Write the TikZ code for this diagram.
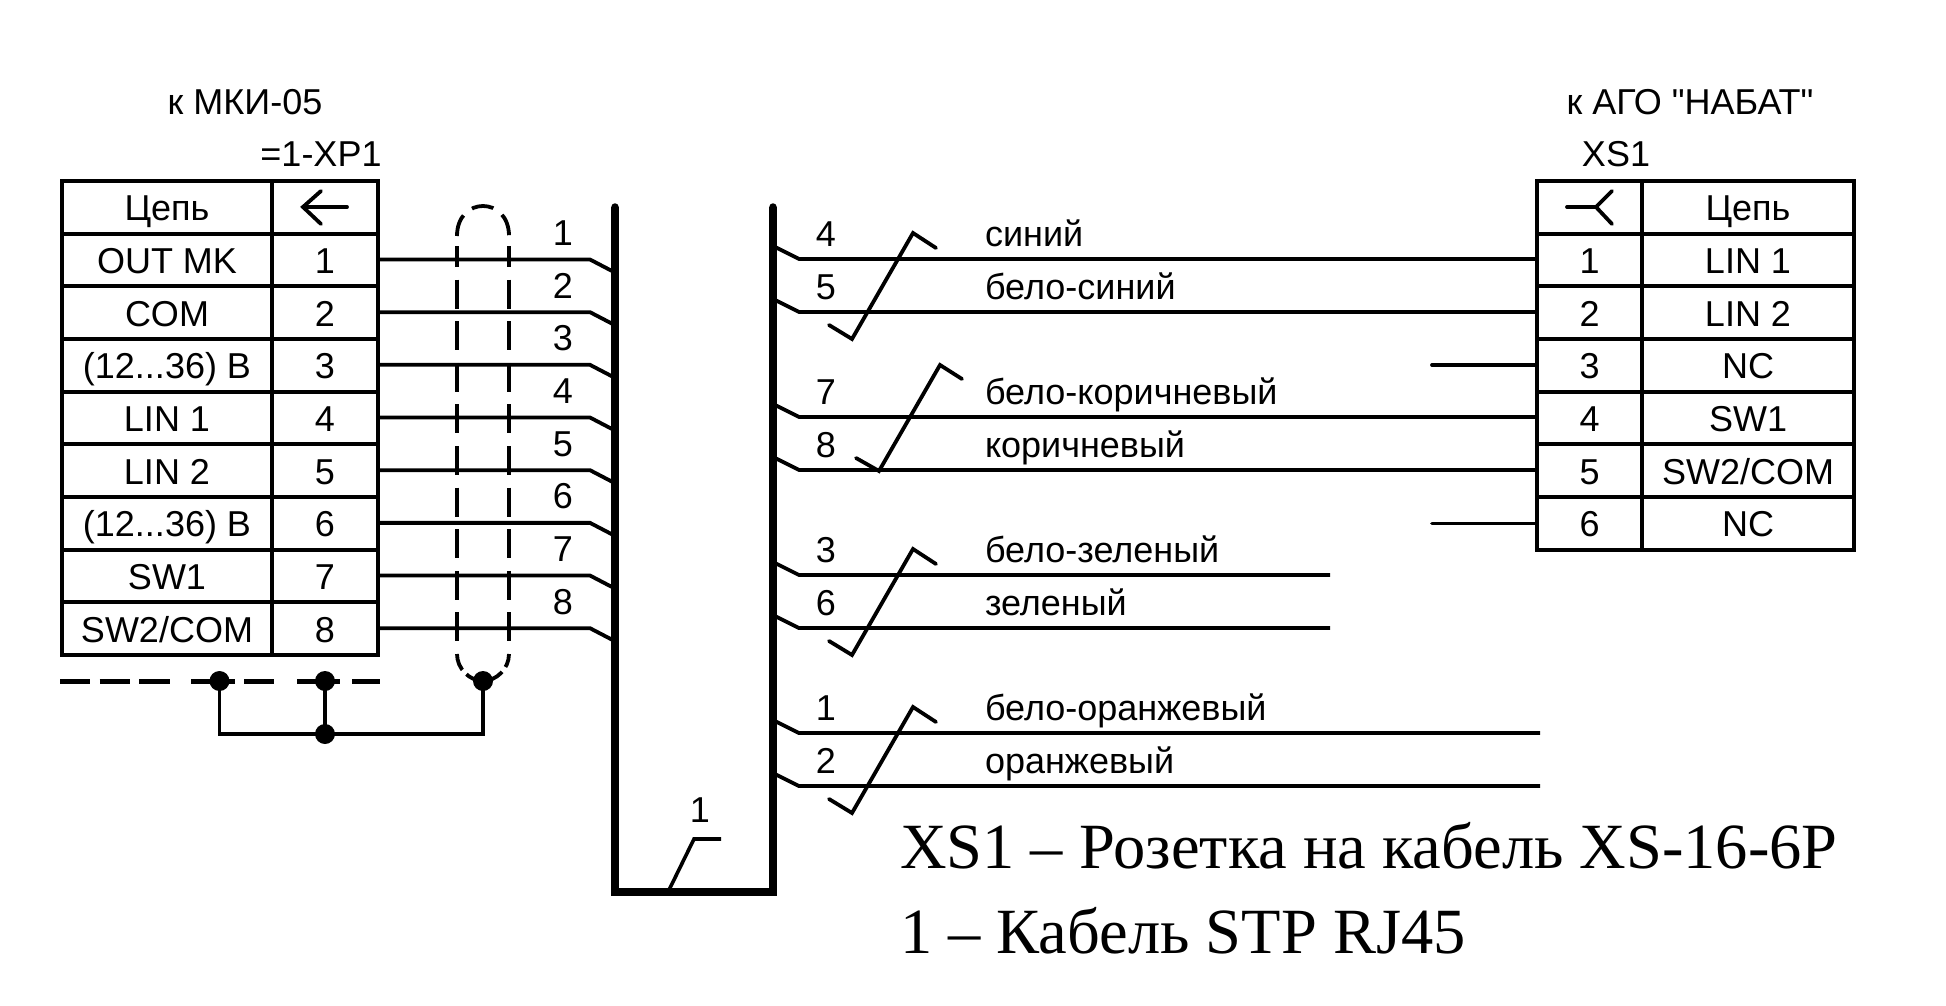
\documentclass[tikz,border=0pt]{standalone}
\usepackage{fontspec}
\setmainfont{Liberation Sans}[Ligatures=TeXOff]
\newfontfamily\serifcap{Liberation Serif}
\def\dts{...}
\def\slh{/}
\tikzset{
  every node/.append style={outer sep=0pt},
  cell/.style={draw,line width=4.2pt,rectangle,inner sep=0pt,minimum height=52.67pt,font=\fontsize{36}{36}\selectfont,text height=27pt,text depth=0pt,anchor=north west},
  txt/.style={inner sep=0pt,font=\fontsize{36}{36}\selectfont,text height=26pt,text depth=0pt},
  wire/.style={line width=3.8pt},
  slash/.style={line width=3.8pt,line cap=round,line join=miter},
  thickbus/.style={line width=7.5pt,line join=miter},
  shield/.style={line width=3.8pt},
  dot/.style={circle,fill=black,inner sep=0pt,minimum size=20pt},
  caption/.style={inner sep=0pt,anchor=base west,font=\serifcap\fontsize{64.5}{64.5}\selectfont}
}
\begin{document}
\begin{tikzpicture}[x=1pt,y=-1pt]
\useasboundingbox (0,0) rectangle (1946,1006);
% titles
\node[txt] (t1) at (245,102) {к МКИ-05};
\node[txt] (t2) at (321,153) {=1-ХР1};
\node[txt] (t3) at (1690,102) {к АГО "НАБАТ"};
\node[txt] (t4) at (1616,153) {XS1};
% left table
\node[cell,minimum width=210pt] (Lh) at (62,181) {Цепь};
\node[cell,minimum width=106pt] (Lh2) at (272,181) {};
\foreach \i/\t in {1/OUT MK,2/COM,3/(12\dts36) В,4/LIN 1,5/LIN 2,6/(12\dts36) В,7/SW1,8/SW2\slh COM}{
  \pgfmathsetmacro\yy{181+52.67*\i}
  \node[cell,minimum width=210pt] (Ln\i) at (62,\yy) {\t};
  \node[cell,minimum width=106pt] (Lp\i) at (272,\yy) {\i};
}
% right table
\node[cell,minimum width=105pt] (Rh) at (1537,181) {};
\node[cell,minimum width=212pt] (Rh2) at (1642,181) {Цепь};
\foreach \i/\t in {1/LIN 1,2/LIN 2,3/NC,4/SW1,5/SW2\slh COM,6/NC}{
  \pgfmathsetmacro\yy{181+52.67*\i}
  \node[cell,minimum width=105pt] (Rp\i) at (1537,\yy) {\i};
  \node[cell,minimum width=212pt] (Rn\i) at (1642,\yy) {\t};
}
% connector symbols
\draw[slash] (347,207) -- (303,207);
\draw[slash] (321,191) -- (303,207) -- (321,224);
\draw[slash] (1567,207) -- (1596,207);
\draw[slash] (1612,191) -- (1596,207) -- (1612,224);
% bus
\coordinate (b1) at (615,207);
\coordinate (b2) at (615,892);
\coordinate (b3) at (773,892);
\coordinate (b4) at (773,207);
\draw[thickbus] (b1) -- (b2) -- (b3) -- (b4);
\fill (b1) circle (3.75pt);
\fill (b4) circle (3.75pt);
% left wires
\foreach \i in {1,...,8}{
  \pgfmathsetmacro\yy{180.5+52.67*(\i+0.5)}
  \coordinate (lb\i) at (590,\yy);
  \coordinate (lp\i) at (613,\yy+12);
  \draw[wire] (Lp\i.east |- lb\i) -- (lb\i) -- (lp\i);
  \node[txt] (lab\i) at (563,\yy-27) {\i};
}
% right wires to the plug
\foreach \w/\r/\y in {4/1/259,5/2/312,7/4/417,8/5/470}{
  \coordinate (rp\w) at (775,\y-12);
  \coordinate (rb\w) at (799,\y);
  \draw[wire] (rp\w) -- (rb\w) -- (Rp\r.west |- rb\w);
  \node[txt] (rl\w) at (826,\y-26) {\w};
}
% free wires
\foreach \w/\y/\e in {3/575/1330,6/628/1330,1/733/1540,2/786/1540}{
  \coordinate (rp\w) at (775,\y-12);
  \coordinate (rb\w) at (799,\y);
  \coordinate (re\w) at (\e,\y);
  \draw[wire] (rp\w) -- (rb\w) -- (re\w);
  \node[txt] (rl\w) at (826,\y-26) {\w};
}
% stubs
\coordinate (s3) at (1432,365);
\coordinate (s6) at (1432,523.5);
\draw[wire,line cap=round] (s3) -- (Rp3.west |- s3);
\draw[wire,line cap=round] (s6) -- (Rp6.west |- s6);
% colour names
\foreach \n/\t/\y in {a/синий/259,b/бело-синий/312,c/бело-коричневый/417,d/коричневый/470,e/бело-зеленый/575,f/зеленый/628,g/бело-оранжевый/733,h/оранжевый/786}{
  \node[inner sep=0pt,anchor=base west,font=\fontsize{36}{36}\selectfont] (col\n) at (985,\y-13) {\t};
}
% pair marks
\draw[slash] (829,325) -- (852,339) -- (913,233) -- (936,248);
\draw[slash] (856,458) -- (879,471) -- (940,365) -- (962,379);
\draw[slash] (829,641) -- (852,655) -- (913,549) -- (936,564);
\draw[slash] (829,799) -- (852,813) -- (913,707) -- (936,722);
% shield
\draw[shield,dash pattern=on 22pt off 11pt] (457,236) .. controls (457,196) and (509,196) .. (509,236);
\draw[shield,dash pattern=on 29pt off 12.6pt,dash phase=8pt] (457,246) -- (457,644);
\draw[shield,dash pattern=on 29pt off 12.6pt,dash phase=8pt] (509,246) -- (509,644);
\draw[shield,dash pattern=on 17pt off 6pt] (457,654) .. controls (457,669) and (470,681) .. (483,681) .. controls (496,681) and (509,669) .. (509,654);
% earth line
\draw[line width=5pt,dash pattern=on 30pt off 9.5pt on 30pt off 9.5pt on 31pt off 21pt on 44pt off 9pt on 30pt off 23pt on 43pt off 12pt on 28pt off 50pt] (60,681) -- (380,681);
\node[dot] (d1) at (219.5,681) {};
\node[dot] (d2) at (325,681) {};
\node[dot] (d3) at (483,681) {};
\node[dot] (d4) at (325,734) {};
\draw[wire,line join=miter] (d1.center) -- (d1.center |- d4) -- (d4.center) -- (d4.center -| d3) -- (d3.center);
\draw[wire] (d2.center) -- (d4.center);
% bus label
\node[txt] (busl) at (700,809) {1};
\coordinate (lead0) at (669,890);
\coordinate (lead1) at (694,839);
\coordinate (lead2) at (721,839);
\draw[line width=3.6pt] (lead0) -- (lead1) -- (lead2);
% caption
\node[caption] (c1) at (900,868) {XS1 – Розетка на кабель XS-16-6P};
\node[caption] (c2) at (900,953) {1 – Кабель STP RJ45};
\end{tikzpicture}
\end{document}
